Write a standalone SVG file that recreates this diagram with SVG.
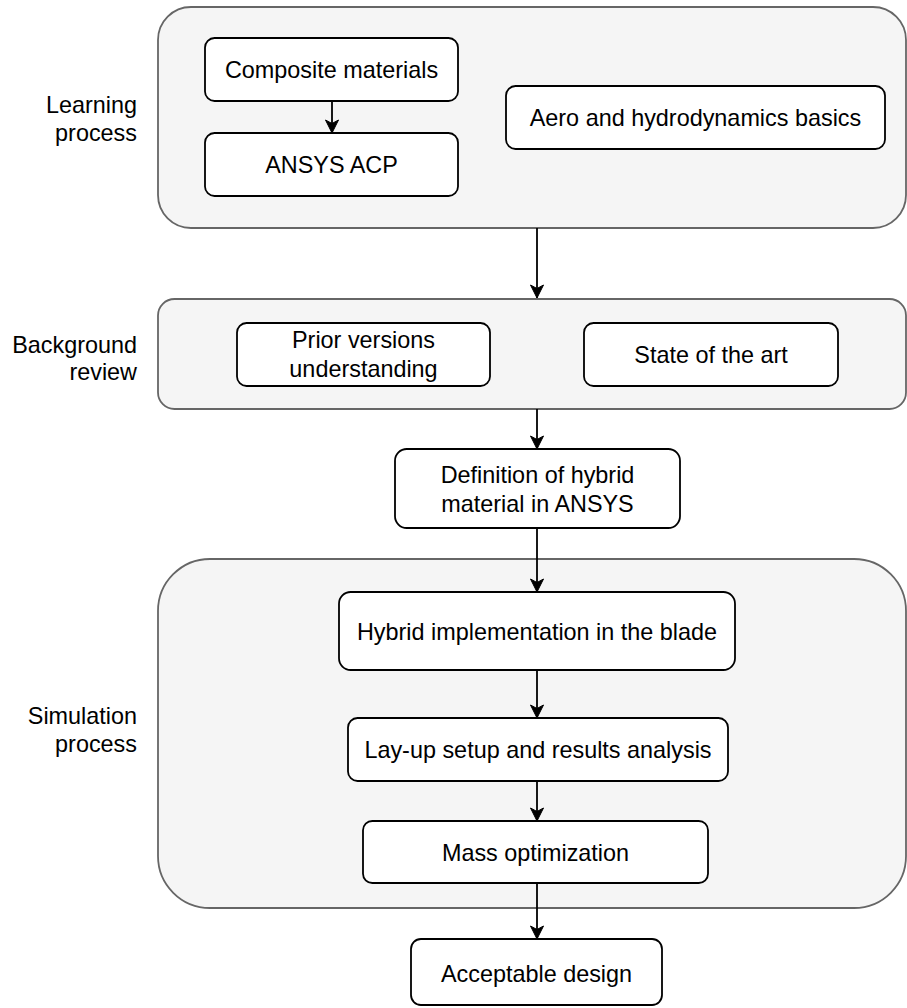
<svg xmlns="http://www.w3.org/2000/svg" width="907" height="1008" viewBox="0 0 907 1008">
<style>
.cont{fill:#f5f5f5;stroke:#666666;stroke-width:1.8}
.box{fill:#ffffff;stroke:#000000;stroke-width:1.8}
.t{font-family:"Liberation Sans",Arial,sans-serif;font-size:23.4px;fill:#000000;text-anchor:middle}
.lbl{font-family:"Liberation Sans",Arial,sans-serif;font-size:23.4px;fill:#000000;text-anchor:end}
.edge{stroke:#000000;stroke-width:1.8;fill:none;marker-end:url(#arr)}
</style>
<defs>
<marker id="arr" markerUnits="userSpaceOnUse" markerWidth="16" markerHeight="16" viewBox="-14 -8 16 16" refX="0" refY="0" orient="auto">
<path d="M0,0 L-13,-6.5 L-9.5,0 L-13,6.5 Z" fill="#000000" stroke="#000000" stroke-width="1"/>
</marker>
</defs>
<g id="learning-process">
<rect class="cont" x="158" y="7" width="748" height="221" rx="33" ry="33"/>
<text class="lbl" x="137" y="113">Learning</text>
<text class="lbl" x="137" y="141">process</text>
</g>
<g id="background-review">
<rect class="cont" x="158" y="299" width="748" height="110" rx="16.5" ry="16.5"/>
<text class="lbl" x="137" y="353">Background</text>
<text class="lbl" x="137" y="380">review</text>
</g>
<g id="simulation-process">
<rect class="cont" x="158" y="559" width="748" height="349" rx="52" ry="52"/>
<text class="lbl" x="137" y="724">Simulation</text>
<text class="lbl" x="137" y="752">process</text>
</g>
<g id="composite-materials">
<rect class="box" x="205" y="38" width="253" height="63" rx="9.5" ry="9.5"/>
<text class="t" x="331.5" y="78">Composite materials</text>
</g>
<g id="ansys-acp">
<rect class="box" x="205" y="133" width="253" height="63" rx="9.5" ry="9.5"/>
<text class="t" x="331.5" y="173">ANSYS ACP</text>
</g>
<g id="aero-hydro">
<rect class="box" x="506" y="86" width="379" height="63" rx="9.5" ry="9.5"/>
<text class="t" x="695.5" y="126">Aero and hydrodynamics basics</text>
</g>
<g id="prior-versions">
<rect class="box" x="237" y="323" width="253" height="63" rx="9.5" ry="9.5"/>
<text class="t" x="363.5" y="348">Prior versions</text>
<text class="t" x="363.5" y="376.5">understanding</text>
</g>
<g id="state-of-art">
<rect class="box" x="584" y="323" width="254" height="63" rx="9.5" ry="9.5"/>
<text class="t" x="711" y="363">State of the art</text>
</g>
<g id="definition-hybrid">
<rect class="box" x="395" y="449" width="285" height="79" rx="11.8" ry="11.8"/>
<text class="t" x="537.5" y="483">Definition of hybrid</text>
<text class="t" x="537.5" y="511.5">material in ANSYS</text>
</g>
<g id="hybrid-implementation">
<rect class="box" x="339" y="592" width="396" height="78" rx="11.7" ry="11.7"/>
<text class="t" x="537" y="640">Hybrid implementation in the blade</text>
</g>
<g id="layup-setup">
<rect class="box" x="348" y="718" width="380" height="63" rx="9.5" ry="9.5"/>
<text class="t" x="538" y="758">Lay-up setup and results analysis</text>
</g>
<g id="mass-optimization">
<rect class="box" x="363" y="821" width="345" height="62" rx="9.3" ry="9.3"/>
<text class="t" x="535.5" y="860.5">Mass optimization</text>
</g>
<g id="acceptable-design">
<rect class="box" x="411" y="939" width="251" height="66" rx="9.9" ry="9.9"/>
<text class="t" x="536.5" y="982">Acceptable design</text>
</g>
<g id="connectors">
<line class="edge" x1="332" y1="101" x2="332" y2="133"/>
<line class="edge" x1="537" y1="228" x2="537" y2="298"/>
<line class="edge" x1="537" y1="409" x2="537" y2="449"/>
<line class="edge" x1="537" y1="528" x2="537" y2="592"/>
<line class="edge" x1="537" y1="670" x2="537" y2="718"/>
<line class="edge" x1="537" y1="781" x2="537" y2="821"/>
<line class="edge" x1="537" y1="883" x2="537" y2="939"/>
</g>
</svg>
